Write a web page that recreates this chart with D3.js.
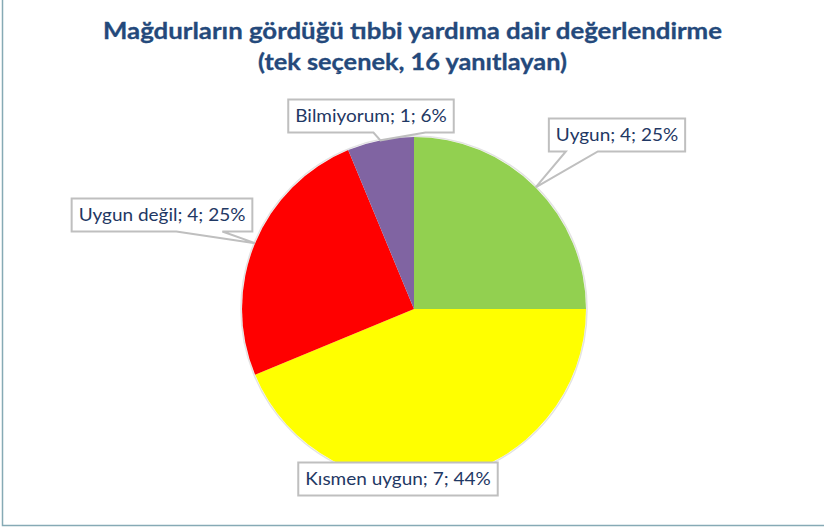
<!DOCTYPE html>
<html>
<head>
<meta charset="utf-8">
<script src="https://cdn.jsdelivr.net/npm/d3@7"></script>
<style>
  body { margin: 0; background: #fff; }
  svg { display: block; }
</style>
</head>
<body>
<div id="chart"></div>
<script>
const SIZE = { width: 824, height: 530 }
const PIE = { cx: 414, cy: 309, r: 172 }

// data
const categories = ["Uygun", "Kısmen uygun", "Uygun değil", "Bilmiyorum"]
const counts = [4, 7, 4, 1]
const colors = ["#92D050", "#FFFF00", "#FF0000", "#8064A2"]
const titleLines = ["Mağdurların gördüğü tıbbi yardıma dair değerlendirme", "(tek seçenek, 16 yanıtlayan)"]

// callout box centres, relative to pie centre (layout only)
const calloutOffsets = [[203, -174], [-16, 170], [-252, -94], [-43, -193]]
const TITLE_WIDTHS = [619, 309]
const STRETCH = 1.15

const svg = d3.select("#chart").append("svg")
    .attr("width", SIZE.width)
    .attr("height", SIZE.height)

// chart frame
svg.append("rect")
    .attr("x", 2.5).attr("y", -10)
    .attr("width", 840).attr("height", 535.5)
    .attr("fill", "none")
    .attr("stroke", "#86aab5")
    .attr("stroke-width", 1.5)

const title = svg.append("g")
    .attr("fill", "#24497b")
    .attr("stroke", "#24497b")
    .attr("stroke-width", 0.3)
    .style("font-family", "Lato, 'Open Sans', sans-serif")
    .style("font-weight", "bold")
    .style("font-size", "22px")
title.selectAll("text").data(titleLines).enter().append("text")
    .attr("x", (d, i) => 412.5 - TITLE_WIDTHS[i] / 2)
    .attr("y", (d, i) => 39 + i * 31)
    .attr("textLength", (d, i) => TITLE_WIDTHS[i])
    .attr("lengthAdjust", "spacingAndGlyphs")
    .text(d => d)

const total = d3.sum(counts)
const rows = categories.map((c, i) => ({ name: c, value: counts[i], color: colors[i], off: calloutOffsets[i] }))

const pie = d3.pie().value(d => d.value).sort(null)
const arc = d3.arc().innerRadius(0).outerRadius(PIE.r)
const edge = d3.arc().innerRadius(PIE.r).outerRadius(PIE.r)
const arcs = pie(rows)

const g = svg.append("g").attr("transform", `translate(${PIE.cx},${PIE.cy})`)
g.append("circle").attr("r", PIE.r + 1).attr("fill", "none")
    .attr("stroke", "#e3e3e3").attr("stroke-width", 1.5)
g.selectAll(".slice").data(arcs).enter().append("path")
    .attr("class", "slice")
    .attr("d", arc)
    .attr("fill", d => d.data.color)

// callouts
const callouts = g.selectAll(".callout").data(arcs).enter().append("g").attr("class", "callout")
callouts.each(function(d){
  const sel = d3.select(this)
  const [bx, by] = d.data.off
  const label = `${d.data.name}; ${d.data.value}; ${Math.round(d.data.value / total * 100)}%`
  const outline = sel.append("path")
  const txt = sel.append("text")
      .attr("y", by + 6)
      .attr("fill", "#1f3864")
      .style("font-family", "Lato, 'Open Sans', sans-serif")
      .style("font-size", "16.5px")
      .text(label)
  const tw = txt.node().getComputedTextLength() * STRETCH
  txt.attr("x", bx - tw / 2)
      .attr("textLength", tw)
      .attr("lengthAdjust", "spacingAndGlyphs")
  const w = tw + 14, h = 33
  const x0 = bx - w / 2, x1 = bx + w / 2, y0 = by - h / 2, y1 = by + h / 2
  const tip = edge.centroid(d)
  let a, b
  if (tip[0] >= x0 && tip[0] <= x1 && tip[1] >= y0 && tip[1] <= y1) {
    outline.attr("d", `M${x0},${y0}H${x1}V${y1}H${x0}Z`)
  } else {
    if (tip[0] < x0) { a = x0 + 17; b = x0 + 49 }
    else if (tip[0] > x1) { a = x1 - 76; b = x1 - 30 }
    else { a = tip[0] - 7; b = a + 52 }
    outline.attr("d", `M${x0},${y0}H${x1}V${y1}H${b}L${tip[0]},${tip[1]}L${a},${y1}H${x0}Z`)
  }
  outline.attr("fill", "#fff")
      .attr("stroke", "#bfbfbf")
      .attr("stroke-width", 2)
})
</script>
</body>
</html>
